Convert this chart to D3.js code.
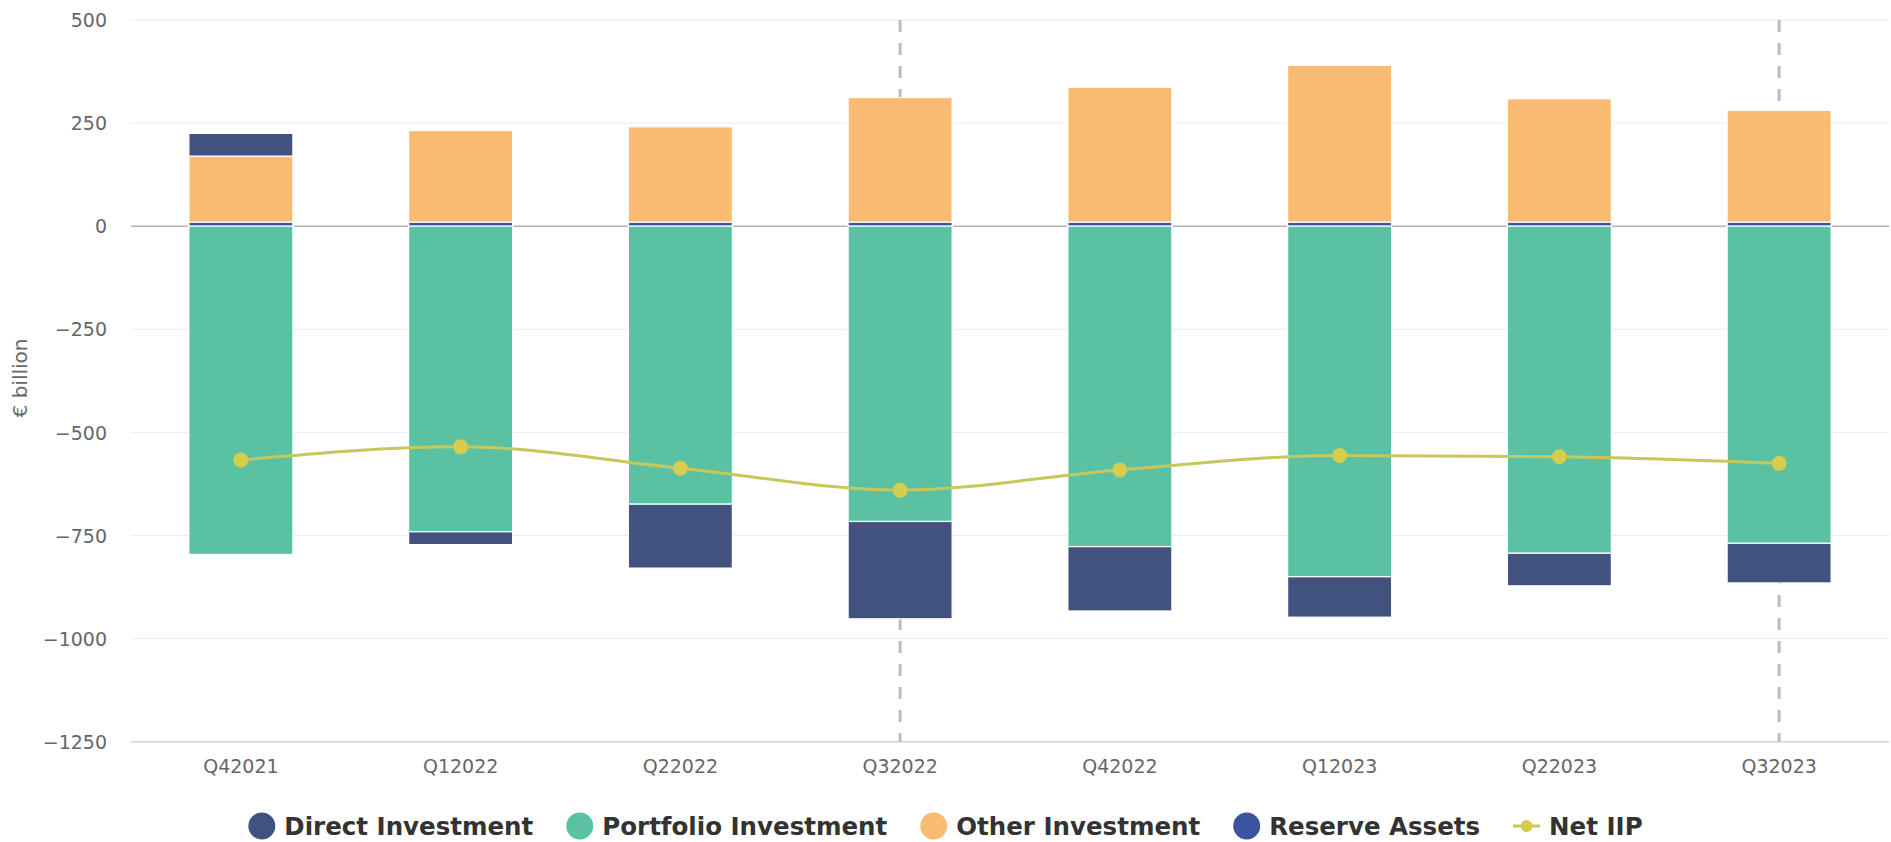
<!DOCTYPE html>
<html>
<head>
<meta charset="utf-8">
<title>International investment position</title>
<script src="https://cdn.jsdelivr.net/npm/d3@7"></script>
<style>
  body { margin: 0; background: #fff; }
  svg { display: block; }
</style>
</head>
<body>
<svg id="chart" width="1891" height="842"></svg>
<script>
// Quarterly international investment position, € billion
const quarters = ["Q42021", "Q12022", "Q22022", "Q32022", "Q42022", "Q12023", "Q22023", "Q32023"];
const directInvestment    = [55, -31, -155, -236, -156, -98, -79, -96];
const portfolioInvestment = [-796, -741, -674, -716, -777, -850, -793, -769];
const otherInvestment     = [160, 222, 231, 302, 327, 380, 299, 271];
const reserveAssets       = [10, 10, 10, 10, 10, 10, 10, 10];
const netIIP              = [-567, -535, -587, -640, -591, -556, -559, -575];
const yTicks = [500, 250, 0, -250, -500, -750, -1000, -1250];
const markedQuarters = ["Q32022", "Q32023"];

const seriesInfo = [
  { key: "direct",    name: "Direct Investment",    color: "#42527f", values: directInvestment },
  { key: "portfolio", name: "Portfolio Investment", color: "#5ac1a2", values: portfolioInvestment },
  { key: "other",     name: "Other Investment",     color: "#f9bb72", values: otherInvestment },
  { key: "reserve",   name: "Reserve Assets",       color: "#3b54a0", values: reserveAssets }
];
const lineColor = "#c6c85a";
const markerColor = "#d6cc4e";

const svg = d3.select("#chart");
const plot = { left: 131, right: 1889, top: 20, bottom: 741.7 };

const x = d3.scaleBand().domain(quarters).range([plot.left, plot.right]);
const y = d3.scaleLinear().domain([-1250, 500]).range([plot.bottom, plot.top]);
const barWidth = 104;
const cx = q => x(q) + x.bandwidth() / 2;

// horizontal grid
svg.append("g").selectAll("line")
  .data(yTicks.filter(t => t !== 0 && t !== -1250))
  .join("line")
  .attr("x1", plot.left).attr("x2", plot.right)
  .attr("y1", d => y(d)).attr("y2", d => y(d))
  .attr("stroke", "#ececec").attr("stroke-width", 1);

// zero line and x axis line
svg.append("line")
  .attr("x1", plot.left).attr("x2", plot.right)
  .attr("y1", y(0)).attr("y2", y(0))
  .attr("stroke", "#b4b4b4").attr("stroke-width", 1.5);
svg.append("line")
  .attr("x1", plot.left).attr("x2", plot.right)
  .attr("y1", y(-1250)).attr("y2", y(-1250))
  .attr("stroke", "#cdd3dd").attr("stroke-width", 1.5);

// dashed markers for selected quarters
svg.append("g").selectAll("line")
  .data(markedQuarters)
  .join("line")
  .attr("x1", d => cx(d)).attr("x2", d => cx(d))
  .attr("y1", plot.top).attr("y2", plot.bottom)
  .attr("stroke", "#bdbdbd").attr("stroke-width", 3)
  .attr("stroke-dasharray", "12,11");

// y axis labels
const yAxis = d3.axisLeft(y).tickValues(yTicks).tickSize(0).tickPadding(0)
  .tickFormat(d3.format("d"));
const yg = svg.append("g").attr("transform", `translate(107,0)`).call(yAxis);
yg.select(".domain").remove();
yg.selectAll("text")
  .attr("fill", "#666").attr("font-family", "DejaVu Sans, Verdana, sans-serif")
  .attr("font-size", 19).attr("dy", "0.35em").text(d => d < 0 ? "\u2212" + Math.abs(d) : d);

// x axis labels
const xAxis = d3.axisBottom(x).tickSize(0).tickPadding(0);
const xg = svg.append("g").attr("transform", `translate(0,${plot.bottom})`).call(xAxis);
xg.select(".domain").remove();
xg.selectAll("text")
  .attr("fill", "#666").attr("font-family", "DejaVu Sans, Verdana, sans-serif")
  .attr("font-size", 19).attr("dy", 0).attr("y", 31);

// y axis title
svg.append("text")
  .attr("transform", "translate(27,378) rotate(-90)")
  .attr("text-anchor", "middle")
  .attr("fill", "#666").attr("font-family", "DejaVu Sans, Verdana, sans-serif")
  .attr("font-size", 20)
  .text("€ billion");

// stacked bars: reserve sits next to zero, direct investment furthest out
const rows = quarters.map((q, i) => {
  const r = { quarter: q };
  seriesInfo.forEach(s => { r[s.key] = s.values[i]; });
  return r;
});
const stackKeys = ["reserve", "other", "portfolio", "direct"];
const stacked = d3.stack().keys(stackKeys).offset(d3.stackOffsetDiverging)(rows);
const colorOf = Object.fromEntries(seriesInfo.map(s => [s.key, s.color]));

svg.append("g").selectAll("g")
  .data(stacked)
  .join("g")
  .attr("fill", d => colorOf[d.key])
  .selectAll("rect")
  .data(d => d)
  .join("rect")
  .attr("x", d => cx(d.data.quarter) - barWidth / 2)
  .attr("width", barWidth)
  .attr("y", d => y(Math.max(d[0], d[1])))
  .attr("height", d => Math.abs(y(d[0]) - y(d[1])))
  .attr("stroke", "#fff").attr("stroke-width", 1.2);

// Net IIP line
const line = d3.line()
  .x((d, i) => cx(quarters[i]))
  .y(d => y(d))
  .curve(d3.curveMonotoneX);
svg.append("path")
  .datum(netIIP)
  .attr("d", line)
  .attr("fill", "none")
  .attr("stroke", lineColor).attr("stroke-width", 3);
svg.append("g").selectAll("circle")
  .data(netIIP)
  .join("circle")
  .attr("cx", (d, i) => cx(quarters[i]))
  .attr("cy", d => y(d))
  .attr("r", 7.5)
  .attr("fill", markerColor);

// legend
const legendItems = seriesInfo.map(s => ({ name: s.name, color: s.color, kind: "dot" }))
  .concat([{ name: "Net IIP", color: lineColor, kind: "line" }]);
const legend = svg.append("g");
const legendY = 826;
let lx = 0;
legendItems.forEach(item => {
  const g = legend.append("g").attr("transform", `translate(${lx},0)`);
  if (item.kind === "dot") {
    g.append("circle").attr("cx", 13.5).attr("cy", legendY).attr("r", 13.5).attr("fill", item.color);
  } else {
    g.append("line").attr("x1", 0).attr("x2", 27).attr("y1", legendY).attr("y2", legendY)
      .attr("stroke", item.color).attr("stroke-width", 3);
    g.append("circle").attr("cx", 13.5).attr("cy", legendY).attr("r", 6).attr("fill", markerColor);
  }
  const t = g.append("text")
    .attr("x", 36).attr("y", legendY).attr("dy", "0.36em")
    .attr("fill", "#333").attr("font-weight", "bold")
    .attr("font-family", "DejaVu Sans, Verdana, sans-serif")
    .attr("font-size", 24.5)
    .text(item.name);
  lx += 36 + t.node().getComputedTextLength() + 33;
});
const legendWidth = lx - 33;
legend.attr("transform", `translate(${(1891 - legendWidth) / 2},0)`);
</script>
</body>
</html>
